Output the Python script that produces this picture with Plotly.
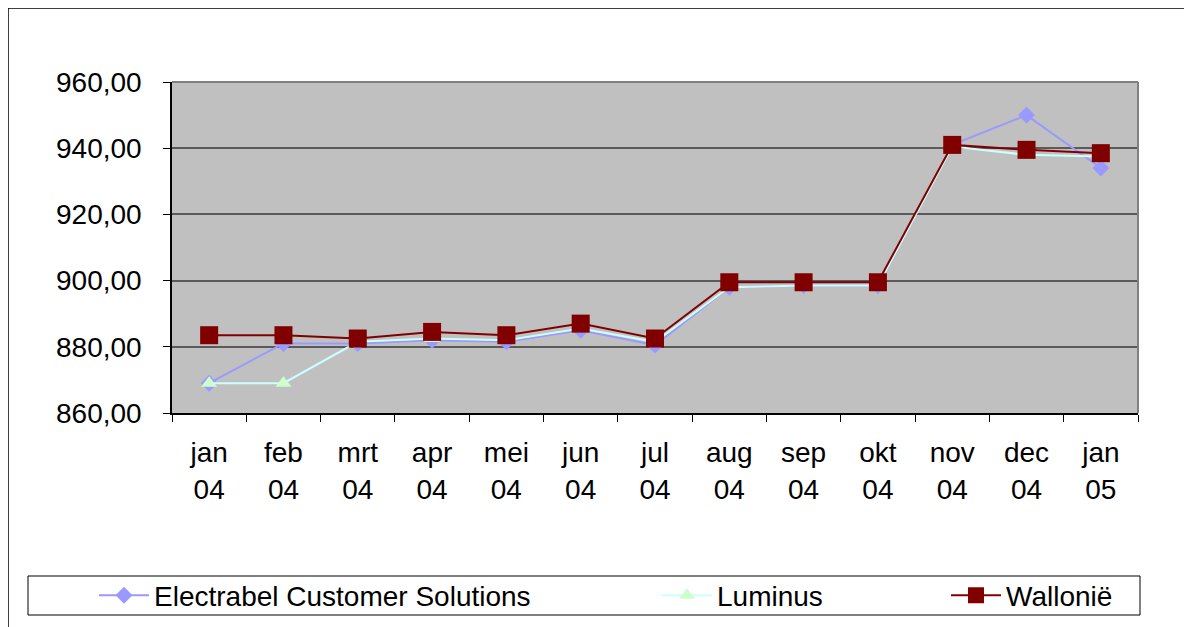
import plotly.graph_objects as go

months = ["jan<br>04", "feb<br>04", "mrt<br>04", "apr<br>04", "mei<br>04", "jun<br>04", "jul<br>04",
          "aug<br>04", "sep<br>04", "okt<br>04", "nov<br>04", "dec<br>04", "jan<br>05"]
electrabel = [869.0, 881.0, 881.0, 882.0, 881.5, 885.0, 880.5, 898.0, 898.5, 898.5, 941.0, 950.0, 934.0]
luminus = [869.0, 869.0, 881.5, 882.5, 882.0, 885.5, 881.5, 898.0, 898.5, 898.5, 940.5, 938.0, 937.5]
wallonie = [883.5, 883.5, 882.5, 884.5, 883.5, 887.0, 882.5, 899.5, 899.5, 899.5, 941.0, 939.5, 938.5]
names = ["Electrabel Customer Solutions", "Luminus", "Wallonië"]

FONT = "Liberation Sans"
W, H = 1192, 627
OFF = 8  # page body margin offset
L, R, T, B = 172 - OFF, 1138 - OFF, 82 - OFF, 413 - OFF

def px(x):
    return (x - OFF - L) / (R - L)

def py(y):
    return (B - (y - OFF)) / (B - T)

fig = go.Figure()
fig.add_trace(go.Scatter(x=months, y=electrabel, name=names[0], mode="lines+markers",
                         line=dict(color="#9999FF", width=2),
                         marker=dict(symbol="diamond", size=13, color="#9999FF"),
                         legend="legend"))
fig.add_trace(go.Scatter(x=months, y=luminus, name=names[1], mode="lines+markers",
                         line=dict(color="#CCFFFF", width=2),
                         marker=dict(symbol="triangle-up", size=14, color="#CCFFCC"),
                         legend="legend2"))
fig.add_trace(go.Scatter(x=months, y=wallonie, name=names[2], mode="lines+markers",
                         line=dict(color="#800000", width=2),
                         marker=dict(symbol="square", size=18, color="#800000"),
                         legend="legend3"))

leg_common = dict(orientation="h", yanchor="middle", xanchor="left", y=py(595.5),
                  font=dict(family=FONT, size=28, color="black"), bgcolor="rgba(0,0,0,0)",
                  borderwidth=0, itemwidth=50)

fig.update_layout(
    width=W, height=H,
    margin=dict(l=L, r=W - R, t=T, b=H - B),
    paper_bgcolor="white",
    plot_bgcolor="#C0C0C0",
    separators=",.",
    font=dict(family=FONT, size=28, color="black"),
    showlegend=True,
    legend=dict(x=px(94), **leg_common),
    legend2=dict(x=px(657), **leg_common),
    legend3=dict(x=px(946), **leg_common),
    xaxis=dict(type="category", range=[-0.5, 12.5], tickson="boundaries", ticks="outside",
               ticklen=7, tickcolor="black", tickwidth=1, showgrid=False,
               showline=True, linecolor="black", linewidth=1.5, mirror=False,
               tickfont=dict(family=FONT, size=28), ticklabelstandoff=14, zeroline=False),
    yaxis=dict(range=[860, 960], dtick=20, tickformat=".2f", ticks="outside", ticklen=7,
               tickcolor="black", showgrid=True, gridcolor="#5a5a5a", gridwidth=1.5,
               showline=True, linecolor="black", linewidth=1.5, zeroline=False,
               tickfont=dict(family=FONT, size=28), ticklabelstandoff=16),
    shapes=[
        dict(type="line", xref="paper", yref="paper", x0=0, x1=1, y0=1, y1=1,
             line=dict(color="#808080", width=2)),
        dict(type="line", xref="paper", yref="paper", x0=1, x1=1, y0=0, y1=1,
             line=dict(color="#808080", width=2)),
        dict(type="rect", xref="paper", yref="paper", x0=px(8), x1=px(1205), y0=py(8), y1=py(640),
             line=dict(color="black", width=1.5), layer="below"),
        dict(type="rect", xref="paper", yref="paper", x0=px(28), x1=px(1140), y0=py(576), y1=py(615),
             line=dict(color="black", width=1), layer="below"),
    ],
)

fig.write_html("out.html")
